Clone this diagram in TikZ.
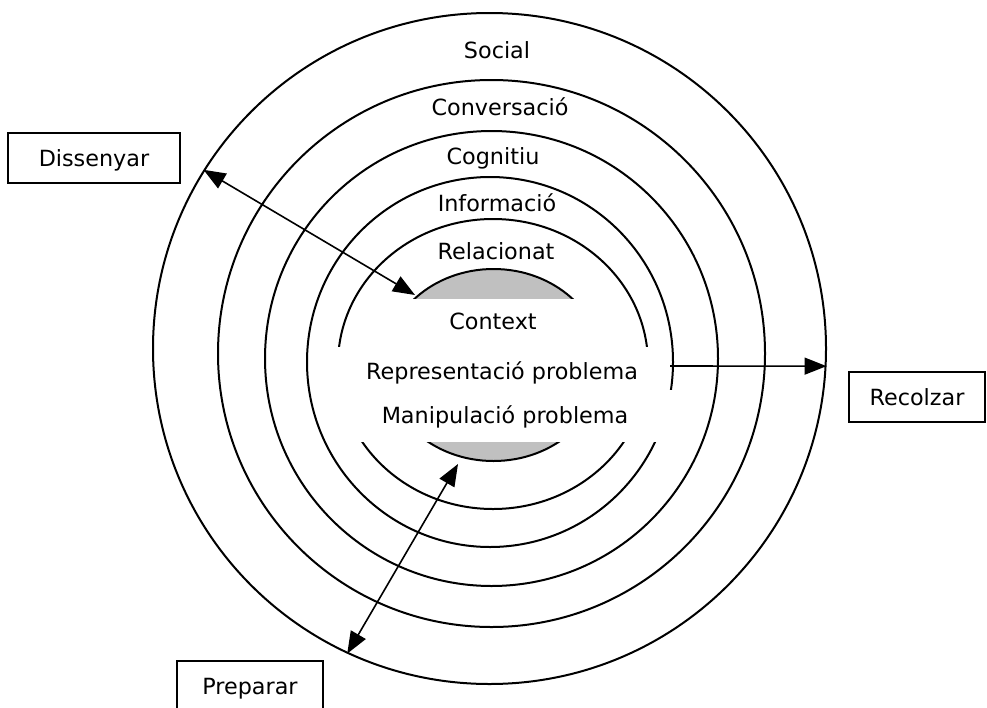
\documentclass[tikz,border=0pt]{standalone}
\usepackage{fontspec}
\setmainfont{DejaVu Sans}
\usetikzlibrary{positioning, shapes.geometric, arrows.meta}
\definecolor{coregray}{RGB}{192,192,192}

\begin{document}
\begin{tikzpicture}[x = 1pt, y = -1pt,
                    > = {Triangle[length = 22pt, width = 17pt]},
                    font = \fontsize{22.3}{26}\selectfont,
                    ring/.style = {ellipse,
                                   draw,
                                   line width = 2pt,
                                   inner sep = 0pt},
                    core/.style = {ellipse,
                                   draw,
                                   fill = coregray,
                                   line width = 2pt,
                                   inner sep = 0pt},
                    layer/.style = {inner sep = 0pt,
                                    anchor = base},
                    action/.style = {rectangle,
                                     draw,
                                     line width = 1.7pt,
                                     minimum height = 50pt,
                                     text height = 16pt,
                                     text depth = 0pt},
                    link/.style = {line width = 1.6pt}]

\useasboundingbox (0,0) rectangle (987,707);

% rings, outside in
\node[ring, minimum width = 673pt, minimum height = 671pt] (social)   at (489.5,348.5) {};
\node[ring, minimum width = 547pt, minimum height = 547pt] (convers)  at (491.5,353.5) {};
\node[ring, minimum width = 453pt, minimum height = 455pt] (cognit)   at (491.5,358.5) {};
\node[ring, minimum width = 366pt, minimum height = 370pt] (inform)   at (490,362) {};
\node[ring, minimum width = 310pt, minimum height = 290pt] (relacio)  at (493,364) {};
\node[core, minimum width = 218pt, minimum height = 192pt] (nucli)    at (493.5,365) {};

% white strips behind the inner texts
\fill[white] (381,298.5) rectangle (607,347);
\fill[white] (334,347) rectangle (663,390);
\fill[white] (336,390) rectangle (679,441.5);

\node[layer] (social-t)  at (497,58)  {Social};
\node[layer] (convers-t) at (500,115) {Conversació};
\node[layer] (cognit-t)  at (493,164) {Cognitiu};
\node[layer] (inform-t)  at (497,211) {Informació};
\node[layer] (relacio-t) at (496,259) {Relacionat};
\node[layer] (context-t) at (493,329) {Context};
\node[layer] (repres-t)  at (502,379) {Representació problema};
\node[layer] (manip-t)   at (505,423) {Manipulació problema};

\node[action, minimum width = 172pt] (dissenyar) at (94,158)    {Dissenyar};
\node[action, minimum width = 136pt] (recolzar)  at (917,397)   {Recolzar};
\node[action, minimum width = 146pt] (preparar)  at (250,686)   {Preparar};

\coordinate (dis-in)  at (415,295);
\coordinate (prep-in) at (458,464);
\coordinate (rec-out) at (670,366);

\path (social.148.5) edge [link, <->] (dis-in);
\path (prep-in) edge [link, <->] (social.245);
\path (rec-out) edge [link, ->] (social.-3);

\end{tikzpicture}
\end{document}
